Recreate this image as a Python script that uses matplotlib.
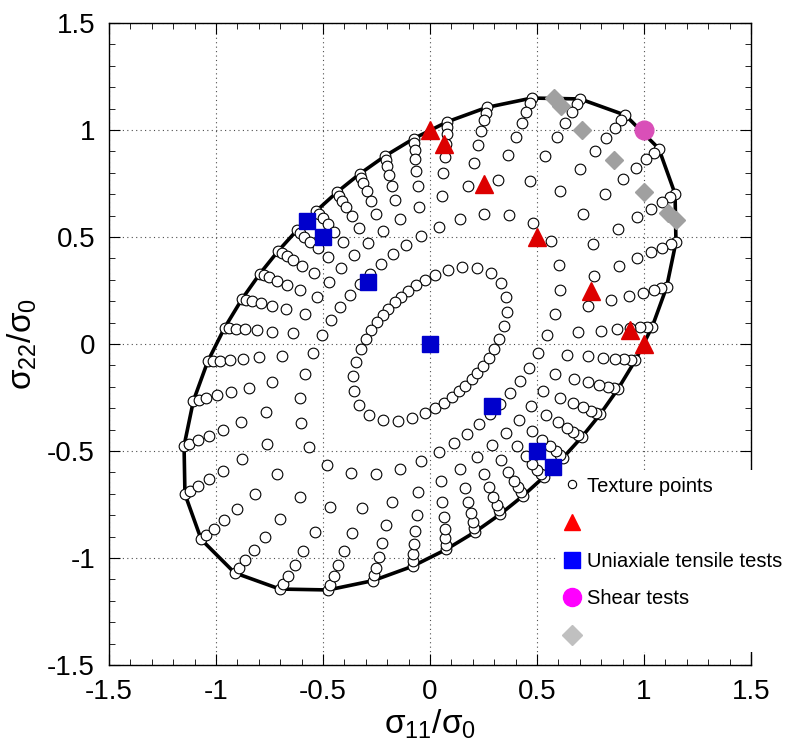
import matplotlib
matplotlib.use('Agg')
import matplotlib.pyplot as plt
import numpy as np
from matplotlib.lines import Line2D
from matplotlib.ticker import MultipleLocator

plt.rcParams['font.family'] = ['Liberation Sans', 'DejaVu Sans']
plt.rcParams['mathtext.default'] = 'regular'

# texture points: one ray per polar angle, points sit at fractions of the edge radius
ray_angle = [4.5, 13.5, 22.5, 31.5, 40.5, 49.5, 58.5, 67.5, 76.5, 85.5,
             94.5, 103.5, 112.5, 121.5, 130.5, 139.5, 148.5, 157.5, 166.5, 175.5,
             184.5, 193.5, 202.5, 211.5, 220.5, 229.5, 238.5, 247.5, 256.5, 265.5,
             274.5, 283.5, 292.5, 301.5, 310.5, 319.5, 328.5, 337.5, 346.5, 355.5]
edge_r = [1.042, 1.137, 1.244, 1.343, 1.406, 1.406, 1.343, 1.244, 1.137, 1.042,
          0.963, 0.903, 0.860, 0.832, 0.818, 0.818, 0.832, 0.860, 0.903, 0.963,
          1.042, 1.137, 1.244, 1.343, 1.406, 1.406, 1.343, 1.244, 1.137, 1.042,
          0.963, 0.903, 0.860, 0.832, 0.818, 0.818, 0.832, 0.860, 0.903, 0.963]
ray_levels = [1.0, 0.978, 0.945, 0.90, 0.843, 0.767, 0.667, 0.527, 0.312]

biax_s11 = [0.0, 0.067, 0.25, 0.5, 0.75, 0.933, 1.0]
biax_s22 = [1.0, 0.933, 0.75, 0.5, 0.25, 0.067, 0.0]
uni_s11 = [-0.577, -0.5, -0.289, 0.0, 0.289, 0.5, 0.577]
uni_s22 = [0.577, 0.5, 0.289, 0.0, -0.289, -0.5, -0.577]
shear_s11 = [1.0]
shear_s22 = [1.0]
gray_s11 = [0.58, 0.61, 0.71, 0.86, 1.0, 1.11, 1.15]
gray_s22 = [1.15, 1.11, 1.0, 0.86, 0.71, 0.61, 0.58]

ticks = [-1.5, -1, -0.5, 0, 0.5, 1, 1.5]
tick_labels = ['-1.5', '-1', '-0.5', '0', '0.5', '1', '1.5']

ang = np.radians(ray_angle)
r = np.array(edge_r)
lev = np.array(ray_levels)
tx = (r[:, None] * lev[None, :] * np.cos(ang)[:, None]).ravel()
ty = (r[:, None] * lev[None, :] * np.sin(ang)[:, None]).ravel()

# yield locus = outermost points of the rays, closed
ex = list(r * np.cos(ang)) + [r[0] * np.cos(ang[0])]
ey = list(r * np.sin(ang)) + [r[0] * np.sin(ang[0])]

fig = plt.figure(figsize=(7.89, 7.54), dpi=100)
ax = fig.add_axes([109 / 789, 89 / 754, 642 / 789, 642 / 754])

ax.plot(ex, ey, color='black', lw=2.6, zorder=3)
ax.plot(tx, ty, ls='none', marker='o', ms=7.7, mfc='white', mec='black', mew=0.8, zorder=4)
ax.plot(biax_s11, biax_s22, ls='none', marker='^', ms=13, color='#dd0000', zorder=5)
ax.plot(uni_s11, uni_s22, ls='none', marker='s', ms=12, color='#0000cc', zorder=7)
ax.plot(shear_s11, shear_s22, ls='none', marker='o', ms=13.5, color='#d94fb8', zorder=5)
ax.plot(gray_s11, gray_s22, ls='none', marker='D', ms=9, color='#a0a0a0', zorder=5)

ax.set_xlim(-1.5, 1.5)
ax.set_ylim(-1.5, 1.5)
ax.set_xticks(ticks)
ax.set_xticklabels(tick_labels)
ax.set_yticks(ticks)
ax.set_yticklabels(tick_labels)
ax.xaxis.set_minor_locator(MultipleLocator(0.1))
ax.yaxis.set_minor_locator(MultipleLocator(0.1))
ax.tick_params(which='both', direction='in', top=True, right=True, labelsize=20, pad=10)
ax.tick_params(which='major', length=8, width=0.8)
ax.tick_params(which='minor', length=4, width=0.6)
ax.grid(True, which='major', ls=(0, (1, 3)), color='0.3', lw=0.8, zorder=1)
ax.set_axisbelow(True)
for s in ax.spines.values():
    s.set_linewidth(1.0)

ax.set_xlabel('σ$_{11}$/σ$_0$', fontsize=24, labelpad=2)
ax.set_ylabel('σ$_{22}$/σ$_0$', fontsize=24, labelpad=6)

handles = [
    Line2D([], [], ls='none', marker='o', ms=6, mfc='white', mec='black', mew=0.8),
    Line2D([], [], ls='none', marker='^', ms=12, color='#ff0000'),
    Line2D([], [], ls='none', marker='s', ms=12, color='#0000ff'),
    Line2D([], [], ls='none', marker='o', ms=13, color='#ff00ff'),
    Line2D([], [], ls='none', marker='D', ms=10, color='#c0c0c0'),
]
labels = ['Texture points', '', 'Uniaxiale tensile tests', 'Shear tests', '']
leg = ax.legend(handles, labels, loc='upper left', bbox_to_anchor=(0.696, 0.303),
                fontsize=14.5, frameon=True, fancybox=False, edgecolor='none',
                facecolor='white', framealpha=1, handlelength=1.0,
                handletextpad=0.25, labelspacing=0.92, borderpad=0.3,
                borderaxespad=0)
leg.set_zorder(6)

fig.savefig('out.png', dpi=100)
